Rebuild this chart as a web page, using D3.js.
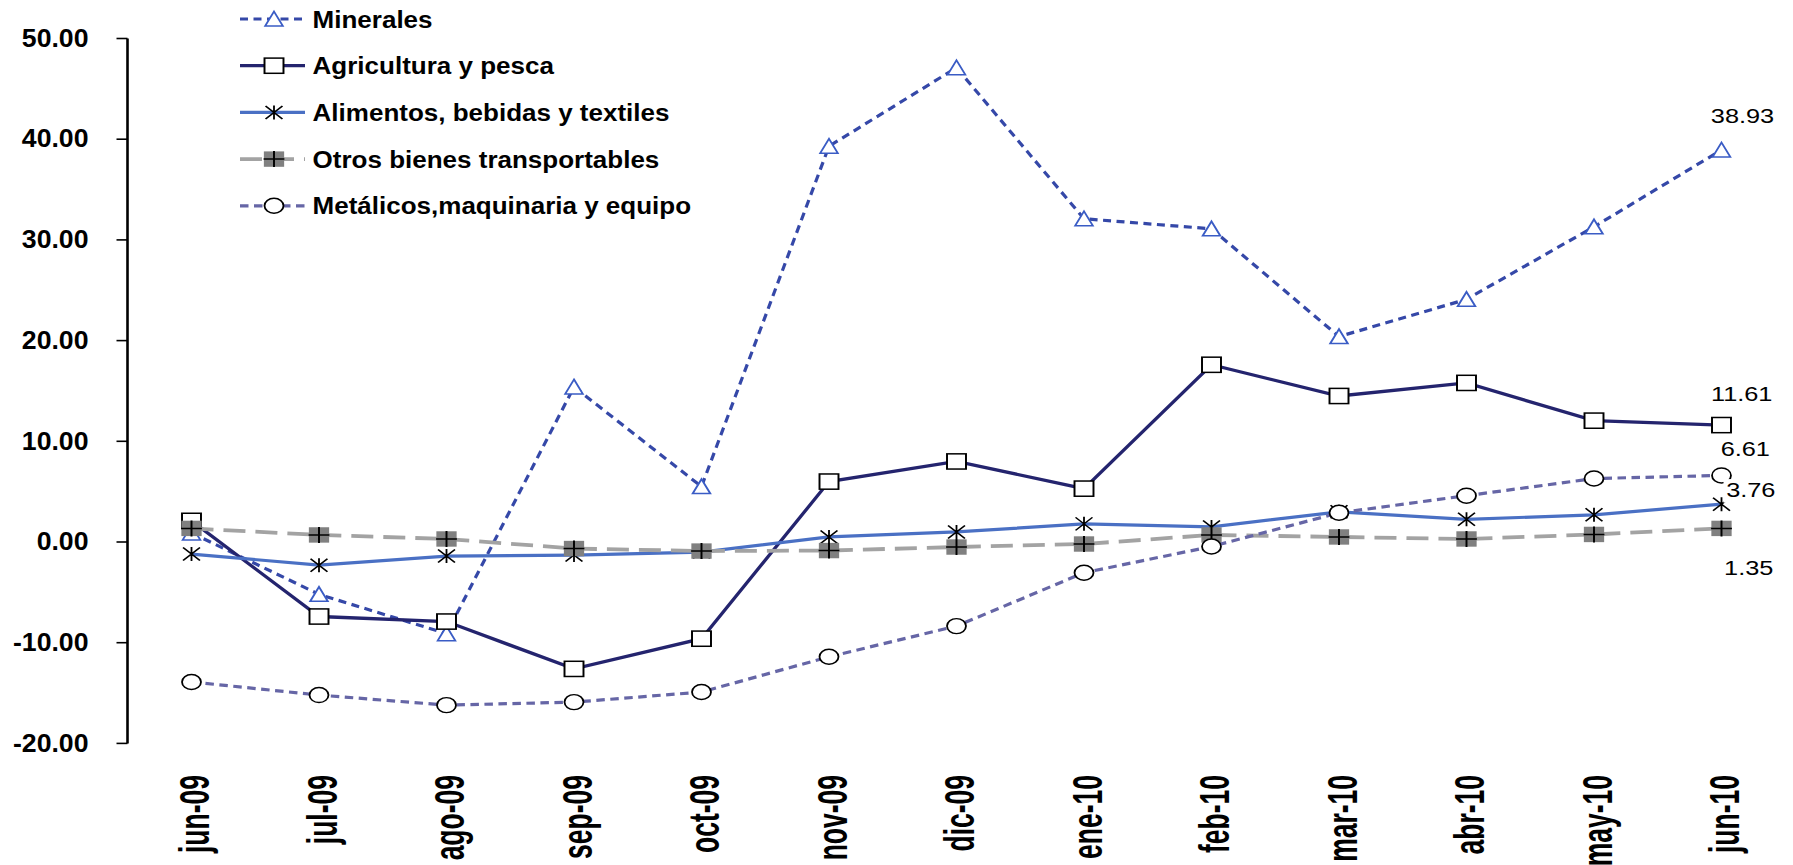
<!DOCTYPE html>
<html>
<head>
<meta charset="utf-8">
<script src="https://cdn.jsdelivr.net/npm/d3@7"></script>
<style>
body { margin: 0; background: #fff; }
svg { display: block; }
</style>
</head>
<body>
<svg width="1793" height="865"></svg>
<script>
// values, jun-09 .. jun-10
const months = ["jun-09", "jul-09", "ago-09", "sep-09", "oct-09", "nov-09", "dic-09", "ene-10", "feb-10", "mar-10", "abr-10", "may-10", "jun-10"]
const minerales = [0.9, -5.2, -9.1, 15.4, 5.5, 39.3, 47.1, 32.1, 31.1, 20.4, 24.1, 31.3, 38.93]
const agricultura = [2.1, -7.4, -7.9, -12.6, -9.6, 6.0, 8.0, 5.3, 17.6, 14.5, 15.8, 12.05, 11.61]
const alimentos = [-1.2, -2.3, -1.4, -1.3, -1.0, 0.5, 1.0, 1.8, 1.5, 3.0, 2.25, 2.7, 3.76]
const otros = [1.35, 0.7, 0.3, -0.65, -0.9, -0.85, -0.5, -0.2, 0.7, 0.5, 0.3, 0.75, 1.35]
const metalicos = [-13.9, -15.2, -16.2, -15.9, -14.9, -11.4, -8.35, -3.05, -0.45, 2.9, 4.6, 6.3, 6.61]
const seriesNames = ["Minerales", "Agricultura y pesca", "Alimentos, bebidas y textiles", "Otros bienes transportables", "Metálicos,maquinaria y equipo"]
const yTicks = [50, 40, 30, 20, 10, 0, -10, -20]

// the source chart is stretched sideways, so markers and text get scaled in x
const SX = 1.3
const narrow = hasFont("Liberation Sans Narrow")
const NF = narrow ? 1 : 0.82
const boldFont = narrow ? '"Liberation Sans Narrow", Arial' : '"Liberation Sans", Arial'

const series = [
    { name: seriesNames[0], values: minerales, color: "#3548a8", width: 3.2, dash: "8,5.5", marker: "tri", nudge: [21, -26.7] },
    { name: seriesNames[1], values: agricultura, color: "#24246e", width: 3.3, dash: null, marker: "square", nudge: [20.2, -24] },
    { name: seriesNames[2], values: alimentos, color: "#4a70c4", width: 3.2, dash: null, marker: "star", nudge: [29.3, -6.8] },
    { name: seriesNames[3], values: otros, color: "#a3a3a3", width: 3.8, dash: "22,10", marker: "plus", nudge: [27.2, 47] },
    { name: seriesNames[4], values: metalicos, color: "#6666a6", width: 3.2, dash: "8.5,5.5", marker: "circle", nudge: [23.8, -19.4] }
]

const svg = d3.select("svg")
svg.append("rect").attr("width", 1793).attr("height", 865).attr("fill", "#fff")

const x = d3.scalePoint().domain(months).range([191.5, 1721.5])
const y = d3.scaleLinear().domain([-20, 50]).range([743.4, 38.5])

// y axis
const axisX = 127.5
svg.append("line")
    .attr("x1", axisX).attr("x2", axisX)
    .attr("y1", y(50)).attr("y2", y(-20))
    .attr("stroke", "#000").attr("stroke-width", 2.6)

svg.selectAll("line.ytick")
    .data(yTicks)
    .enter()
    .append("line")
    .attr("class", "ytick")
    .attr("x1", axisX - 11).attr("x2", axisX)
    .attr("y1", d => y(d)).attr("y2", d => y(d))
    .attr("stroke", "#000").attr("stroke-width", 1.6)

svg.selectAll("text.ylabel")
    .data(yTicks)
    .enter()
    .append("text")
    .attr("class", "ylabel")
    .attr("transform", d => `translate(88.5,${y(d)}) scale(${SX * NF},1)`)
    .attr("dy", "0.33em")
    .attr("text-anchor", "end")
    .style("font-family", boldFont)
    .style("font-weight", "bold")
    .style("font-size", "25px")
    .text(d => d.toFixed(2))

// category labels, rotated
svg.selectAll("text.xlabel")
    .data(months)
    .enter()
    .append("text")
    .attr("class", "xlabel")
    .attr("transform", d => `translate(${x(d)},775) scale(${SX},1) rotate(-90) scale(${NF},1)`)
    .attr("dy", "0.42em")
    .attr("text-anchor", "end")
    .style("font-family", boldFont)
    .style("font-weight", "bold")
    .style("font-size", "32.3px")
    .text(d => d)

const line = d3.line()
    .x((d, i) => x(months[i]))
    .y(d => y(d))

series.forEach(s => {
    svg.append("path")
        .attr("d", line(s.values))
        .attr("fill", "none")
        .attr("stroke", s.color)
        .attr("stroke-width", s.width)
        .attr("stroke-dasharray", s.dash)

    s.values.forEach((v, i) => {
        drawMarker(svg.append("g").attr("transform", `translate(${x(months[i])},${y(v)}) scale(${SX},1)`), s.marker)
    })
})

// labels on the last month, with white boxes like the original
series.forEach(s => {
    const last = s.values[s.values.length - 1]
    const g = svg.append("g")
        .attr("transform", `translate(${x(months[12]) + s.nudge[0]},${y(last) + s.nudge[1]}) scale(${SX},1)`)
    const box = g.append("rect").attr("fill", "#fff")
    const t = g.append("text")
        .attr("text-anchor", "middle")
        .style("font-family", '"Liberation Sans", Arial')
        .style("font-size", "19.5px")
        .attr("fill", "#000")
        .text(last.toFixed(2))
    const bb = t.node().getBBox()
    box.attr("x", bb.x - 2).attr("y", bb.y - 1).attr("width", bb.width + 4).attr("height", bb.height + 2)
})

// legend
const legend = svg.selectAll("g.legend")
    .data(series)
    .enter()
    .append("g")
    .attr("class", "legend")
    .attr("transform", (d, i) => `translate(0,${19 + i * 46.7})`)

legend.append("line")
    .attr("x1", 240).attr("x2", 305)
    .attr("stroke", d => d.color)
    .attr("stroke-width", d => d.width)
    .attr("stroke-dasharray", d => d.dash)

legend.each(function (d) {
    drawMarker(d3.select(this).append("g").attr("transform", `translate(274,0) scale(${SX},1)`), d.marker)
})

legend.append("text")
    .attr("transform", `translate(312.6,0) scale(${SX * NF},1)`)
    .attr("dy", "0.35em")
    .style("font-family", boldFont)
    .style("font-weight", "bold")
    .style("font-size", "24.4px")
    .text(d => d.name)

function drawMarker(g, type) {
    switch (type) {
        case "tri":
            g.append("path").attr("d", "M0,-7.5L6.8,7L-6.8,7Z")
                .attr("fill", "#fff").attr("stroke", "#3a5cc5").attr("stroke-width", 1.5)
            break
        case "square":
            g.append("rect").attr("x", -7.3).attr("y", -7.6).attr("width", 14.6).attr("height", 15.2)
                .attr("fill", "#fff").attr("stroke", "#000").attr("stroke-width", 1.5)
            break
        case "star":
            g.append("path").attr("d", "M-6.5,-6.5L6.5,6.5M-6.5,6.5L6.5,-6.5M0,-7V7")
                .attr("fill", "none").attr("stroke", "#000").attr("stroke-width", 1.4)
            break
        case "plus":
            g.append("rect").attr("x", -7.8).attr("y", -7.7).attr("width", 15.6).attr("height", 15.4)
                .attr("fill", "#808080")
            g.append("path").attr("d", "M-8,0H8M0,-8V8")
                .attr("fill", "none").attr("stroke", "#000").attr("stroke-width", 1.5)
            break
        case "circle":
            g.append("ellipse").attr("rx", 7.3).attr("ry", 7.5)
                .attr("fill", "#fff").attr("stroke", "#000").attr("stroke-width", 1.4)
            break
    }
}

function hasFont(name) {
    const c = document.createElement("canvas").getContext("2d")
    c.font = "bold 40px monospace"
    const base = c.measureText("Minerales 0123").width
    c.font = `bold 40px "${name}", monospace`
    return c.measureText("Minerales 0123").width !== base
}
</script>
</body>
</html>
